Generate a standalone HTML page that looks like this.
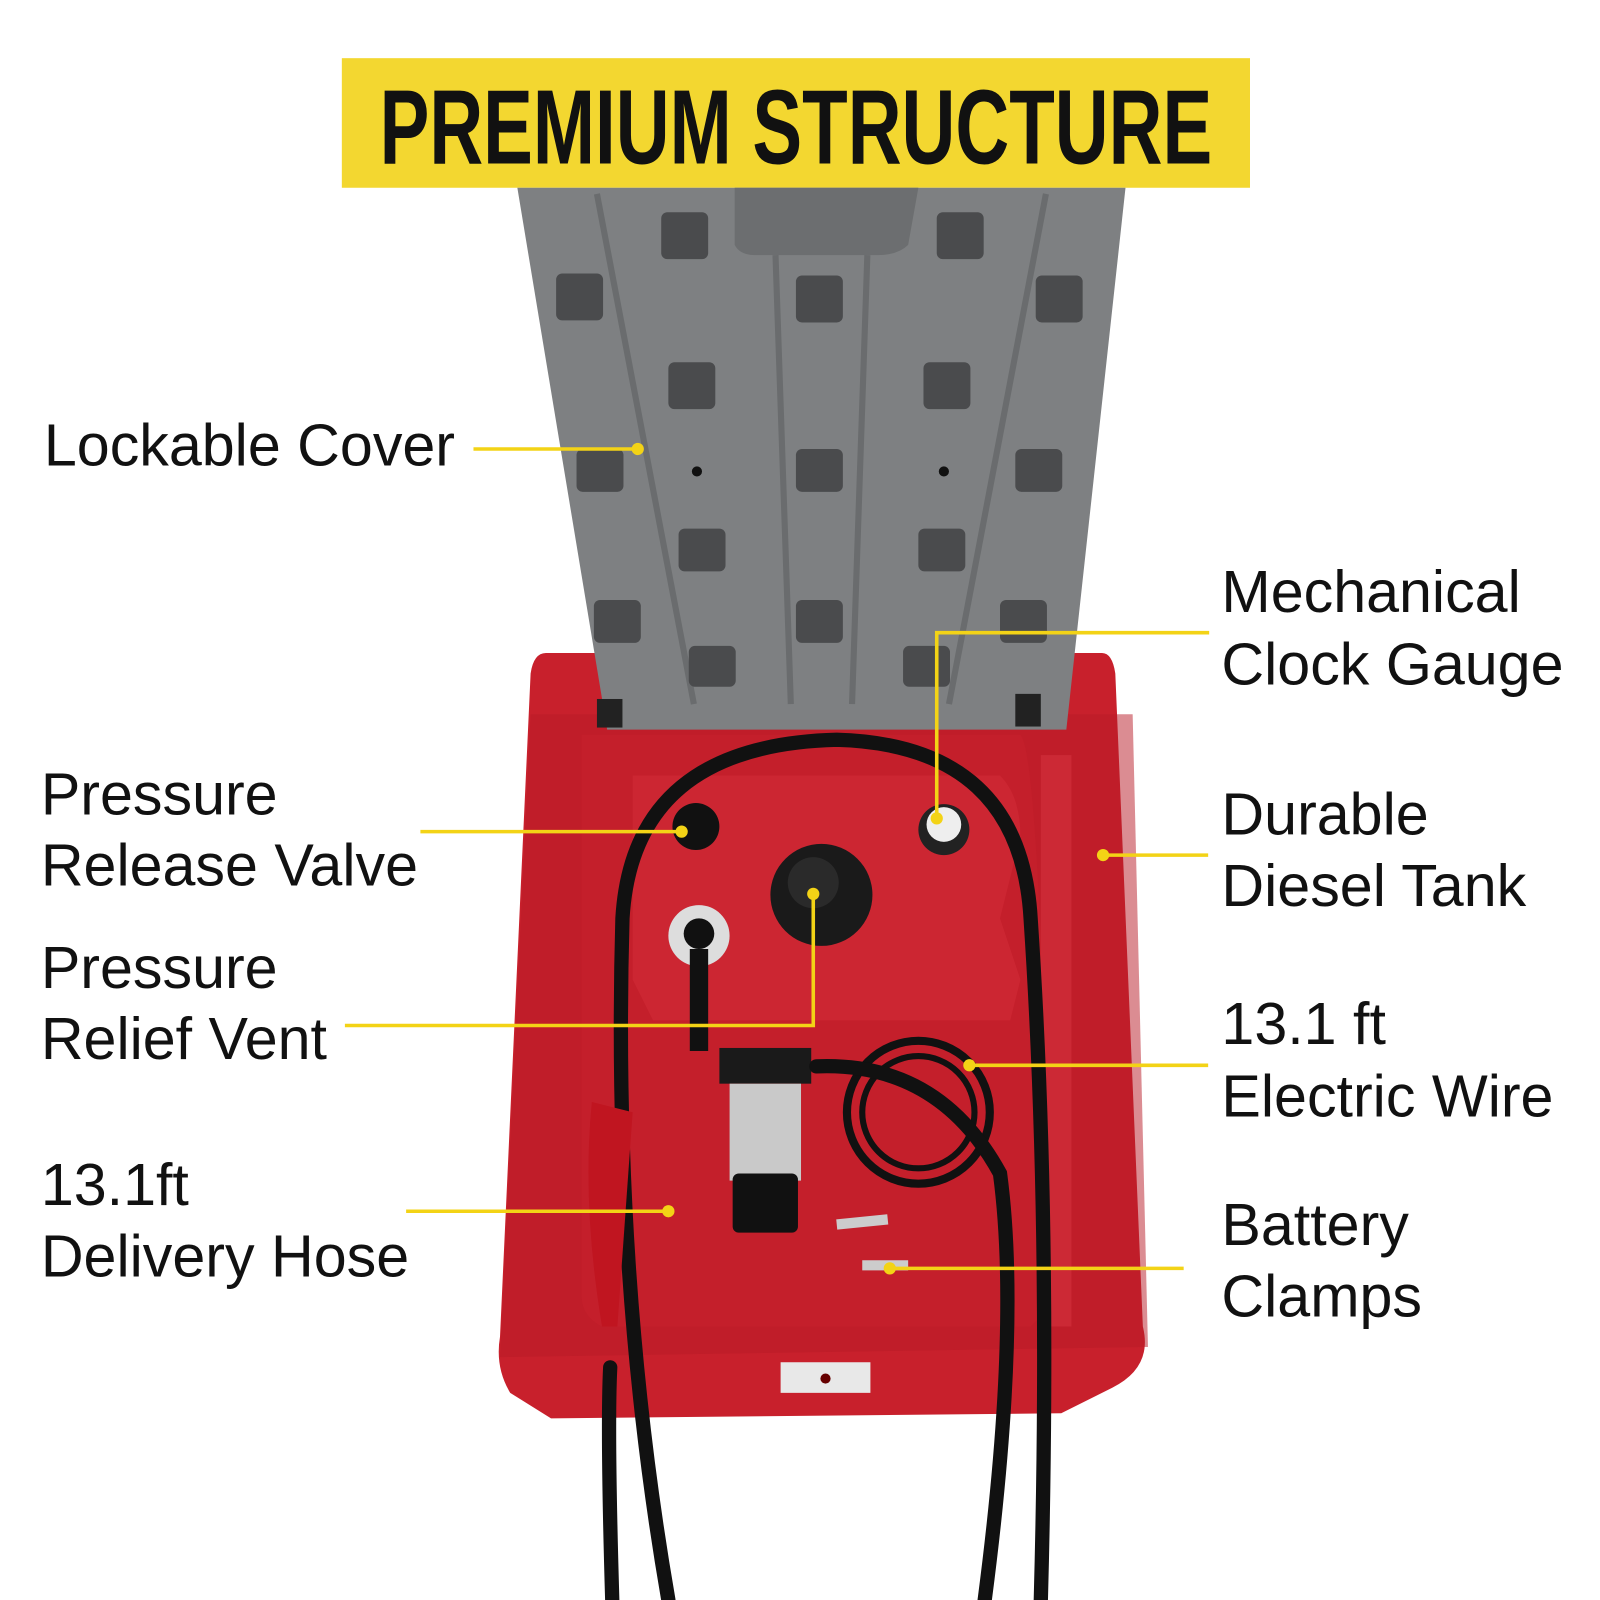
<!DOCTYPE html>
<html><head><style>
html,body{margin:0;padding:0;background:#fff;width:1600px;height:1600px;overflow:hidden}
svg{display:block}
</style></head><body>
<svg width="1600" height="1600" viewBox="0 0 1568 1568" xmlns="http://www.w3.org/2000/svg">
<rect width="1568" height="1568" fill="#fff"/>
<!-- banner -->
<rect x="335" y="57" width="890" height="127" fill="#f3d730"/>
<text x="372" y="160" textLength="816" lengthAdjust="spacingAndGlyphs" font-family="Liberation Sans, sans-serif" font-weight="bold" font-size="104" fill="#111">PREMIUM STRUCTURE</text>
<!-- tank -->
<path d="M535 640 L1080 640 Q1090 640 1093 660 L1120 1300 Q1130 1340 1090 1360 L1040 1385 L540 1390 L500 1365 Q485 1340 490 1310 L520 660 Q523 640 535 640Z" fill="#c8202c"/>
<path d="M520 700 L1110 700 L1125 1320 L490 1330Z" fill="#b81a26" opacity="0.5"/>
<path d="M570 720 L1000 720 Q1020 740 1030 1280 L1010 1300 L590 1300 Q570 1290 570 1270Z" fill="#c41f2b"/>
<path d="M620 760 L980 760 Q1000 780 1000 820 L980 900 L1000 960 L990 1000 L640 1000 L620 960 Z" fill="#cc2632"/>
<rect x="1020" y="740" width="30" height="560" fill="#d4323e" opacity="0.6"/>
<rect x="765" y="1335" width="88" height="30" fill="#e8e8e8"/>
<circle cx="809" cy="1351" r="5" fill="#600"/>
<!-- lid -->
<path d="M507 184 L1103 184 L1045 715 L595 715Z" fill="#7e8082"/>
<g fill="none" stroke="#6a6c6e" stroke-width="6">
<path d="M585 190 L680 690"/><path d="M760 250 L775 690"/><path d="M850 250 L835 690"/><path d="M1025 190 L930 690"/>
</g>
<path d="M720 184 L900 184 L890 240 Q880 250 860 250 L740 250 Q725 250 720 240Z" fill="#6c6e70"/>
<g fill="#4a4b4d">
<rect x="648" y="208" width="46" height="46" rx="6"/><rect x="918" y="208" width="46" height="46" rx="6"/>
<rect x="545" y="268" width="46" height="46" rx="6"/><rect x="780" y="270" width="46" height="46" rx="6"/><rect x="1015" y="270" width="46" height="46" rx="6"/>
<rect x="655" y="355" width="46" height="46" rx="6"/><rect x="905" y="355" width="46" height="46" rx="6"/>
<rect x="565" y="440" width="46" height="42" rx="6"/><rect x="780" y="440" width="46" height="42" rx="6"/><rect x="995" y="440" width="46" height="42" rx="6"/>
<rect x="665" y="518" width="46" height="42" rx="6"/><rect x="900" y="518" width="46" height="42" rx="6"/>
<rect x="582" y="588" width="46" height="42" rx="6"/><rect x="780" y="588" width="46" height="42" rx="6"/><rect x="980" y="588" width="46" height="42" rx="6"/>
<rect x="675" y="633" width="46" height="40" rx="6"/><rect x="885" y="633" width="46" height="40" rx="6"/>
</g>
<circle cx="683" cy="462" r="5" fill="#111"/><circle cx="925" cy="462" r="5" fill="#111"/>
<rect x="585" y="685" width="25" height="28" fill="#222"/><rect x="995" y="680" width="25" height="32" fill="#222"/>
<!-- caps -->
<circle cx="682" cy="810" r="23" fill="#111"/>
<circle cx="805" cy="877" r="50" fill="#1a1a1a"/><circle cx="797" cy="865" r="25" fill="#2a2a2a"/>
<circle cx="925" cy="813" r="25" fill="#222"/><circle cx="925" cy="808" r="17" fill="#eee"/>
<circle cx="685" cy="917" r="30" fill="#ddd"/><circle cx="685" cy="915" r="15" fill="#111"/>
<path d="M685 930 L685 1030" stroke="#111" stroke-width="18"/>
<!-- pump -->
<rect x="705" y="1027" width="90" height="35" fill="#1a1a1a"/>
<rect x="715" y="1062" width="70" height="95" fill="#c9c9c9"/>
<rect x="718" y="1150" width="64" height="58" rx="6" fill="#111"/>
<ellipse cx="900" cy="1090" rx="70" ry="70" fill="none" stroke="#111" stroke-width="8"/>
<ellipse cx="900" cy="1090" rx="55" ry="55" fill="none" stroke="#111" stroke-width="6"/>
<path d="M820 1200 L870 1195 M845 1240 L890 1240" stroke="#ccc" stroke-width="10"/>
<!-- hoses -->
<g fill="none" stroke="#111" stroke-width="14" stroke-linecap="round">
<path d="M655 1568 Q600 1250 610 900 Q620 730 820 725 Q1000 730 1010 900 Q1030 1200 1020 1568"/>
<path d="M600 1568 Q595 1400 598 1340"/>
<path d="M800 1045 Q920 1040 980 1150 Q1000 1300 965 1568"/>
</g>
<path d="M580 1080 Q570 1180 590 1300 L605 1300 L620 1090Z" fill="#c01520"/>
<!-- connectors -->
<g stroke="#f3d316" stroke-width="3.5" fill="none">
<path d="M464 440 H625"/>
<path d="M412 815 H668"/>
<path d="M338 1005 H797 V876"/>
<path d="M398 1187 H655"/>
<path d="M1185 620 H918 V802"/>
<path d="M1184 838 H1081"/>
<path d="M1184 1044 H950"/>
<path d="M1160 1243 H872"/>
</g>
<g fill="#f3d316">
<circle cx="625" cy="440" r="6"/><circle cx="668" cy="815" r="6"/><circle cx="797" cy="876" r="6"/><circle cx="655" cy="1187" r="6"/>
<circle cx="918" cy="802" r="6"/><circle cx="1081" cy="838" r="6"/><circle cx="950" cy="1044" r="6"/><circle cx="872" cy="1243" r="6"/>
</g>
<!-- labels -->
<g font-family="Liberation Sans, sans-serif" font-size="58" fill="#111">
<text x="43" y="456">Lockable Cover</text>
<text x="40" y="798">Pressure</text><text x="40" y="868">Release Valve</text>
<text x="40" y="968">Pressure</text><text x="40" y="1038">Relief Vent</text>
<text x="40" y="1181">13.1ft</text><text x="40" y="1251">Delivery Hose</text>
<text x="1197" y="600">Mechanical</text><text x="1197" y="671">Clock Gauge</text>
<text x="1197" y="818">Durable</text><text x="1197" y="888">Diesel Tank</text>
<text x="1197" y="1023">13.1 ft</text><text x="1197" y="1094">Electric Wire</text>
<text x="1197" y="1220">Battery</text><text x="1197" y="1290">Clamps</text>
</g>
</svg>
</body></html>
